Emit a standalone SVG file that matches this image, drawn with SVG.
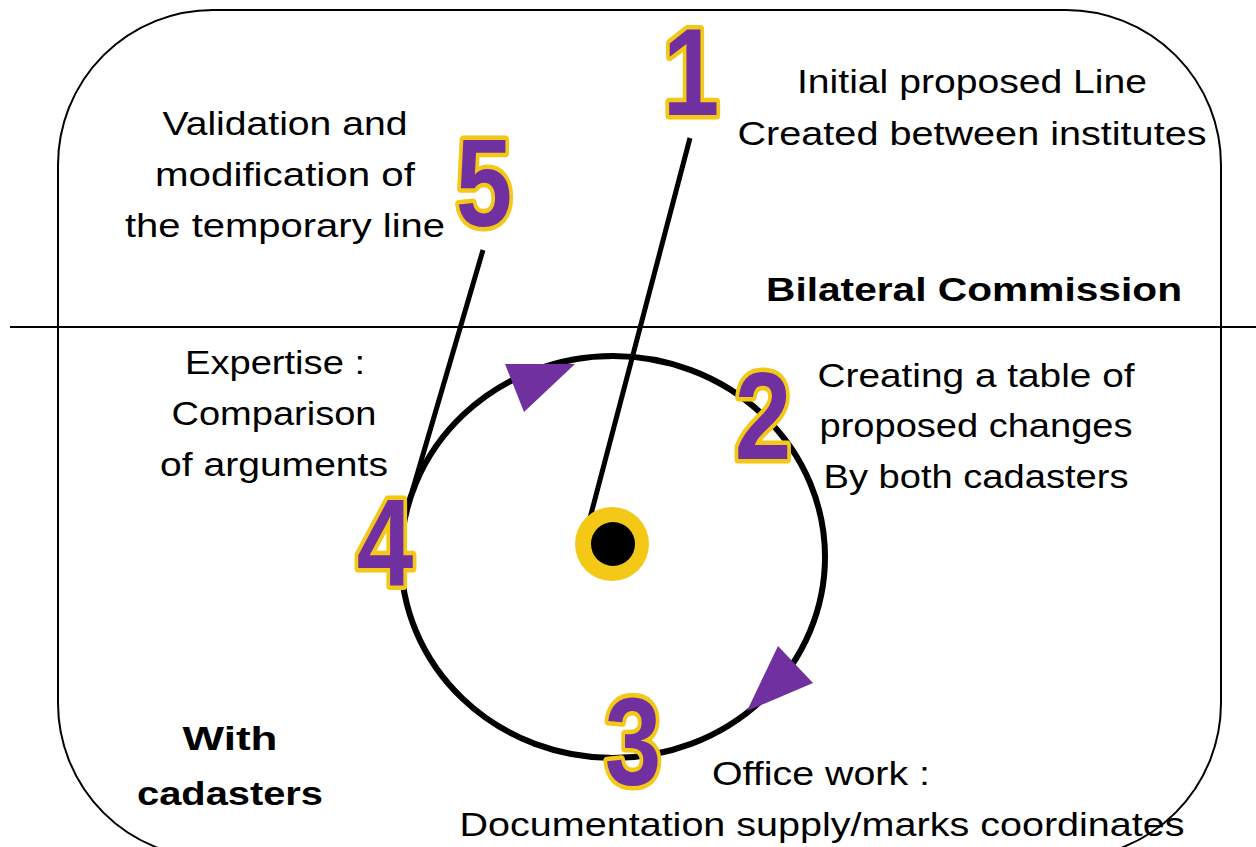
<svg xmlns="http://www.w3.org/2000/svg" width="1256" height="847" viewBox="0 0 1256 847">
<style>
.t{font-family:"Liberation Sans",Arial,sans-serif;font-size:34px;fill:#000;text-anchor:middle}
.b{font-weight:bold}
.n{font-family:"Liberation Sans",Arial,sans-serif;font-weight:bold;font-size:124px;fill:#7030A0;stroke:#F4C817;stroke-width:9;stroke-linejoin:round;paint-order:stroke;text-anchor:middle}
.ar{fill:#7030A0}
</style>
<rect width="1256" height="847" fill="#fff"/>
<g id="frame">
<rect x="58" y="10" width="1163" height="848" rx="155" ry="155" fill="none" stroke="#000" stroke-width="2"/>
<line x1="10" y1="327" x2="1256" y2="327" stroke="#000" stroke-width="2"/>
</g>
<g id="connectors">
<ellipse cx="613" cy="557" rx="212" ry="201" fill="none" stroke="#000" stroke-width="6"/>
<line x1="690" y1="138" x2="590" y2="518" stroke="#000" stroke-width="5"/>
<line x1="483" y1="250" x2="412" y2="492" stroke="#000" stroke-width="5"/>
<polygon class="ar" points="505,364 575,364 524,412"/>
<polygon class="ar" points="778,646 813,683 747,711"/>
</g>
<g id="center">
<circle cx="612" cy="544" r="37" fill="#F4C817"/>
<circle cx="613" cy="544" r="22" fill="#000"/>
</g>
<g id="step1">
<text class="n" transform="translate(691,115) scale(0.82,1)">1</text>
<text class="t" x="972" y="93" textLength="350" lengthAdjust="spacingAndGlyphs">Initial proposed Line</text>
<text class="t" x="972" y="145" textLength="469" lengthAdjust="spacingAndGlyphs">Created between institutes</text>
</g>
<g id="step5">
<text class="n" transform="translate(484,226) scale(0.82,1)">5</text>
<text class="t" x="285" y="135" textLength="245" lengthAdjust="spacingAndGlyphs">Validation and</text>
<text class="t" x="285" y="186" textLength="260" lengthAdjust="spacingAndGlyphs">modification of</text>
<text class="t" x="285" y="237" textLength="320" lengthAdjust="spacingAndGlyphs">the temporary line</text>
</g>
<g id="label-bilateral">
<text class="t b" x="974" y="301" textLength="416" lengthAdjust="spacingAndGlyphs">Bilateral Commission</text>
</g>
<g id="step2">
<text class="n" transform="translate(763,459) scale(0.82,1)">2</text>
<text class="t" x="976" y="387" textLength="317" lengthAdjust="spacingAndGlyphs">Creating a table of</text>
<text class="t" x="976" y="437" textLength="313" lengthAdjust="spacingAndGlyphs">proposed changes</text>
<text class="t" x="976" y="488" textLength="305" lengthAdjust="spacingAndGlyphs">By both cadasters</text>
</g>
<g id="step4">
<text class="n" transform="translate(385,585) scale(0.82,1)">4</text>
<text class="t" x="275" y="374" textLength="180" lengthAdjust="spacingAndGlyphs">Expertise :</text>
<text class="t" x="274" y="425" textLength="205" lengthAdjust="spacingAndGlyphs">Comparison</text>
<text class="t" x="274" y="476" textLength="228" lengthAdjust="spacingAndGlyphs">of arguments</text>
</g>
<g id="step3">
<text class="n" transform="translate(633,785) scale(0.82,1)">3</text>
<text class="t" x="821" y="785" textLength="218" lengthAdjust="spacingAndGlyphs">Office work :</text>
<text class="t" x="822" y="836" textLength="725" lengthAdjust="spacingAndGlyphs">Documentation supply/marks coordinates</text>
</g>
<g id="label-cadasters">
<text class="t b" x="230" y="750" textLength="95" lengthAdjust="spacingAndGlyphs">With</text>
<text class="t b" x="230" y="805" textLength="186" lengthAdjust="spacingAndGlyphs">cadasters</text>
</g>
</svg>
